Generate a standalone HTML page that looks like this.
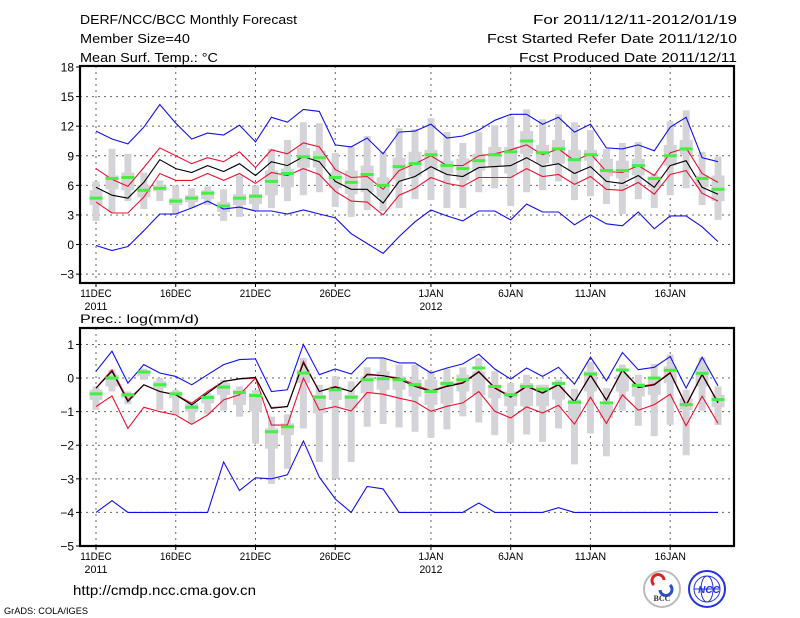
<!DOCTYPE html>
<html><head><meta charset="utf-8"><style>
html,body{margin:0;padding:0;background:#fff;}
svg{display:block;font-family:"Liberation Sans",sans-serif;}
</style></head><body>
<svg id="chart" width="800" height="618" viewBox="0 0 800 618" xmlns="http://www.w3.org/2000/svg">
<g font-size="13" fill="#000">
<text x="80" y="24" textLength="217" lengthAdjust="spacingAndGlyphs">DERF/NCC/BCC Monthly Forecast</text>
<text x="80" y="43" textLength="110" lengthAdjust="spacingAndGlyphs">Member Size=40</text>
<text x="80" y="62" textLength="138" lengthAdjust="spacingAndGlyphs">Mean Surf. Temp.: °C</text>
<text x="533" y="24" textLength="204" lengthAdjust="spacingAndGlyphs">For 2011/12/11-2012/01/19</text>
<text x="487" y="43" textLength="250" lengthAdjust="spacingAndGlyphs">Fcst Started Refer Date 2011/12/10</text>
<text x="519" y="62" textLength="218" lengthAdjust="spacingAndGlyphs">Fcst Produced Date 2011/12/11</text>
</g>
<text x="80" y="323" font-size="12" textLength="119" lengthAdjust="spacingAndGlyphs">Prec.: log(mm/d)</text>
<text x="73" y="595" font-size="14" textLength="183" lengthAdjust="spacingAndGlyphs">http://cmdp.ncc.cma.gov.cn</text>
<text x="4" y="614" font-size="9" textLength="84" lengthAdjust="spacingAndGlyphs">GrADS: COLA/IGES</text>
<g>
<circle cx="662" cy="589" r="18" fill="#fff" stroke="#bbb" stroke-width="2"/>
<path d="M654 585 a6 6 0 1 1 10 -5" stroke="#d22" stroke-width="3" fill="none"/>
<path d="M670 585 a6 6 0 1 1 -10 5" stroke="#2a4fd0" stroke-width="3" fill="none"/>
<text x="662" y="601" font-size="8" font-weight="bold" text-anchor="middle" fill="#333" font-family="Liberation Serif,serif">BCC</text>
</g>
<g>
<circle cx="707" cy="589" r="18" fill="#fff" stroke="#2233dd" stroke-width="2"/>
<ellipse cx="707" cy="589" rx="13" ry="13" fill="none" stroke="#2233dd" stroke-width="1"/>
<ellipse cx="707" cy="589" rx="6" ry="13" fill="none" stroke="#2233dd" stroke-width="1"/>
<line x1="694" y1="589" x2="720" y2="589" stroke="#2233dd"/>
<text x="709" y="593" font-size="10" font-weight="bold" font-style="italic" text-anchor="middle" fill="#2233dd">NCC</text>
</g>
<g id="top"></g>
<g id="bot"></g>
</svg>
<script>
// ---------- data ----------
const tTicks=[18,15,12,9,6,3,0,-3];
const pTicks=[1,0,-1,-2,-3,-4,-5];
const xTickDays=[0,5,10,15,21,26,31,36];
const xTickLabels=["11DEC","16DEC","21DEC","26DEC","1JAN","6JAN","11JAN","16JAN"];
const xYearLabels=["2011","","","","2012","","",""];
// temperature
const tMax=[11.5,10.7,10.2,11.9,14.2,12.3,10.7,11.3,11.1,12.1,10.4,12.9,12.4,13.7,13.5,10.1,9.9,10.8,9.2,11.4,11.5,12.2,10.8,11.0,11.6,12.6,13.2,13.2,12.2,12.9,11.4,12.2,9.8,9.7,10.1,9.5,11.9,12.9,8.8,8.4];
const tMin=[-0.1,-0.6,-0.2,1.4,3.1,3.1,3.7,4.4,3.6,3.8,3.4,3.4,3.1,3.5,3.1,2.7,1.1,0.1,-0.9,0.8,2.3,3.5,2.9,2.4,3.4,3.4,2.5,4.1,3.3,3.3,2.0,3.0,2.1,1.9,3.3,1.6,2.9,2.9,1.8,0.3];
const tUp=[7.7,6.6,5.9,7.8,9.8,9.0,8.2,8.8,8.4,9.4,7.8,9.6,9.2,10.3,9.9,7.6,6.8,6.9,5.6,7.5,8.2,9.0,8.0,8.0,9.0,9.2,9.6,10.1,9.1,9.7,8.5,9.2,7.4,7.3,8.0,7.0,9.3,9.8,7.2,6.3];
const tMean=[5.8,5.0,4.7,6.3,8.6,7.7,7.3,8.0,7.4,8.2,7.0,8.4,8.0,8.9,8.4,6.4,5.6,5.6,4.2,6.4,6.9,7.9,7.1,6.9,7.8,7.9,8.0,8.8,7.9,8.2,7.2,7.9,6.4,6.2,7.0,5.8,8.0,8.5,5.8,5.1];
const tLo=[4.3,3.2,3.2,4.8,7.2,6.5,6.5,7.2,6.5,7.2,6.2,7.3,7.0,7.7,7.1,5.4,4.4,4.3,3.0,5.0,5.7,6.8,6.2,5.9,6.8,6.8,6.8,7.7,6.9,7.1,6.1,6.9,5.6,5.5,6.3,5.1,7.1,7.5,5.2,4.4];
const tObs=[4.7,6.7,6.8,5.5,5.7,4.4,4.7,5.2,3.9,4.7,4.9,6.4,7.2,8.9,8.8,6.8,6.3,7.1,6.0,7.9,8.2,9.1,8.0,7.7,8.5,9.1,9.4,10.5,9.3,9.7,8.6,9.1,7.5,7.5,8.0,6.7,9.0,9.7,6.7,5.6];
const tWhLo=[2.4,3.2,4.4,3.6,4.4,3.0,3.7,4.0,2.4,2.8,3.4,3.7,4.4,5.0,5.3,3.8,2.8,3.5,3.4,3.7,4.6,4.5,3.7,3.7,5.3,5.7,3.9,5.3,5.5,6.4,4.5,4.9,4.1,3.1,4.6,3.7,5.0,5.7,4.0,2.5];
const tWhHi=[6.4,9.7,9.2,7.3,6.5,6.0,5.7,5.9,5.6,7.0,6.0,9.7,10.6,12.4,12.3,9.3,9.9,11.0,9.4,11.8,11.7,12.8,11.4,10.3,11.4,12.1,13.0,13.7,12.7,13.2,12.4,11.6,9.7,10.3,10.4,7.2,12.5,13.6,9.4,8.9];
const tBxLo=[4.0,5.6,5.5,4.8,5.4,4.0,4.3,4.6,3.3,4.0,4.1,5.0,5.8,7.8,7.8,5.7,5.1,5.3,4.8,6.6,6.9,7.5,7.2,6.5,7.5,7.9,7.2,9.2,8.2,8.2,7.5,8.5,6.9,6.7,7.0,5.8,8.0,9.1,5.8,4.4];
const tBxHi=[5.5,7.0,7.3,6.0,6.0,4.7,5.0,5.5,4.3,5.1,5.1,7.5,7.7,9.8,9.5,7.3,7.5,8.0,6.8,8.8,9.4,9.6,8.5,8.7,9.2,9.9,9.9,11.5,10.1,10.6,9.6,9.6,8.7,8.5,8.7,6.9,10.1,10.6,7.0,7.0];
// precipitation
const pMax=[0.2,0.8,-0.15,0.4,0.15,0.05,-0.2,0.1,0.4,0.55,0.57,-0.4,-0.35,1.0,0.1,0.27,0.12,0.6,0.6,0.45,0.45,0.15,0.3,0.42,0.71,0.27,-0.03,0.3,0.05,0.32,-0.18,0.62,-0.08,0.76,0.25,0.32,0.64,-0.3,0.62,-0.23];
const pMin=[-4,-3.65,-4,-4,-4,-4,-4,-4,-2.5,-3.35,-2.97,-3.0,-2.88,-1.87,-2.95,-3.6,-4,-3.23,-3.3,-4,-4,-4,-4,-4,-3.72,-4,-4,-4,-4,-3.86,-4,-4,-4,-4,-4,-4,-4,-4,-4,-4];
const pUp=[-0.3,0.25,-0.65,-0.2,-0.4,-0.5,-0.75,-0.4,-0.1,-0.03,0.0,-0.88,-0.85,0.5,-0.4,-0.25,-0.4,0.12,0.07,0.0,-0.2,-0.38,-0.23,-0.13,0.2,-0.28,-0.55,-0.23,-0.43,-0.18,-0.7,0.1,-0.65,0.25,-0.26,-0.18,0.17,-0.8,0.12,-0.72];
const pMean=[-0.3,0.2,-0.7,-0.2,-0.4,-0.5,-0.8,-0.45,-0.1,-0.02,0.02,-0.9,-0.85,0.45,-0.4,-0.27,-0.4,0.1,0.07,-0.03,-0.25,-0.4,-0.25,-0.15,0.18,-0.3,-0.57,-0.25,-0.45,-0.2,-0.71,0.08,-0.66,0.23,-0.28,-0.2,0.15,-0.82,0.1,-0.74];
const pLo=[-0.85,-0.53,-1.5,-0.87,-1.0,-1.1,-1.38,-1.1,-0.65,-0.5,0.0,-1.4,-1.4,0.0,-0.95,-0.85,-0.98,-0.43,-0.48,-0.6,-0.7,-0.99,-0.84,-0.74,-0.4,-0.99,-1.19,-0.86,-1.04,-0.81,-1.37,-0.57,-1.35,-0.5,-0.96,-0.79,-0.48,-1.42,-0.54,-1.35];
const pObs=[-0.47,0.0,-0.5,0.18,-0.2,-0.47,-0.87,-0.58,-0.27,-0.43,-0.52,-1.6,-1.45,0.15,-0.57,-0.35,-0.57,-0.05,-0.02,-0.05,-0.2,-0.4,-0.16,-0.05,0.3,-0.25,-0.5,-0.25,-0.33,-0.16,-0.72,0.12,-0.74,0.24,-0.22,0.0,0.23,-0.79,0.14,-0.64];
const pWhLo=[-0.95,-0.4,-0.78,-0.05,-0.95,-1.1,-1.35,-1.08,-0.97,-1.15,-1.95,-3.15,-2.7,-1.5,-2.5,-3.0,-2.5,-1.45,-1.37,-1.47,-1.6,-1.78,-1.53,-1.14,-1.32,-1.7,-1.93,-1.68,-1.9,-1.5,-2.57,-1.65,-2.33,-0.97,-1.42,-1.73,-1.39,-2.3,-0.97,-1.4];
const pWhHi=[-0.25,0.25,-0.4,0.28,0.0,-0.35,-0.7,-0.45,-0.05,-0.25,-0.35,-1.15,-1.08,0.6,-0.2,0.05,-0.1,0.32,0.58,0.4,0.4,0.2,0.28,0.32,0.6,0.2,-0.15,0.1,-0.2,-0.05,-0.32,0.48,-0.3,0.4,0.1,0.42,0.7,-0.35,0.61,-0.25];
const pBxLo=[-0.65,-0.25,-0.6,0.05,-0.3,-0.6,-1.0,-0.75,-0.5,-0.8,-1.0,-2.1,-1.7,-0.15,-1.05,-0.65,-0.9,-0.45,-0.35,-0.35,-0.55,-0.8,-0.76,-0.4,-0.5,-0.6,-0.84,-0.84,-0.84,-0.64,-1.14,-0.4,-1.2,-0.4,-0.55,-0.5,-0.15,-0.95,-0.25,-0.87];
const pBxHi=[-0.35,0.1,-0.45,0.22,-0.1,-0.4,-0.75,-0.5,-0.15,-0.35,-0.45,-1.5,-1.35,0.25,-0.5,-0.25,-0.5,0.05,0.2,0.05,-0.05,-0.05,-0.1,0.1,0.2,-0.2,-0.4,-0.15,-0.2,-0.25,-0.64,0.2,-0.8,0.1,-0.15,-0.05,0.35,-0.6,0.35,-0.5];

// ---------- drawing ----------
const NS="http://www.w3.org/2000/svg";
const X0=80,X1=734,D0=96,DX=15.95;
const xOf=d=>D0+d*DX;
function mk(parent,tag,attrs){const e=document.createElementNS(NS,tag);for(const k in attrs)e.setAttribute(k,attrs[k]);parent.appendChild(e);return e;}
function panel(g,top,bot,vTop,vBot,ticks,S,prefix){
  const yOf=v=>top+(vTop-v)/(vTop-vBot)*(bot-top);
  ticks.forEach(t=>{const y=yOf(t);
    if(y>top+2&&y<bot-2){const l=mk(g,'line',{x1:X0,x2:X1,y1:y,y2:y,stroke:'#666','stroke-width':1,'stroke-dasharray':'2,4'});
    
    }
    const tk=mk(g,'line',{x1:X0-4,x2:X0,y1:y,y2:y,stroke:'#000'});
    
    
    const tx=mk(g,'text',{x:X0-6,y:y+4.5,'font-size':12,'text-anchor':'end'});tx.textContent=(t<0?'\u2212'+(-t):''+t);
    
    
  });
  xTickDays.forEach((d,i)=>{const x=xOf(d);
    const l=mk(g,'line',{x1:x,x2:x,y1:top,y2:bot,stroke:'#666','stroke-dasharray':'2,4'});
    
    
    const tk=mk(g,'line',{x1:x,x2:x,y1:bot,y2:bot+4,stroke:'#000'});
    
    
    const tx=mk(g,'text',{x:x,y:bot+14,'font-size':11,'text-anchor':'middle',textLength:xTickLabels[i].length*6.3,lengthAdjust:'spacingAndGlyphs'});tx.textContent=xTickLabels[i];
    
    
    if(xYearLabels[i]){const ty=mk(g,'text',{x:x,y:bot+27,'font-size':11,'text-anchor':'middle',textLength:23,lengthAdjust:'spacingAndGlyphs'});ty.textContent=xYearLabels[i];
      
      }
  });
  for(let d=0;d<S.obs.length;d++){const x=xOf(d);
    const w=mk(g,'rect',{x:x-3.5,width:7,y:yOf(S.whHi[d]),height:Math.max(1,yOf(S.whLo[d])-yOf(S.whHi[d])),fill:'#d4d4d8'});
    
    
    const b=mk(g,'rect',{x:x-6.5,width:13,y:yOf(S.bxHi[d]),height:Math.max(1,yOf(S.bxLo[d])-yOf(S.bxHi[d])),fill:'#d4d4d8'});
    
    
  }
  const line=(arr,col,name)=>{const p=mk(g,'polyline',{points:arr.map((v,d)=>xOf(d).toFixed(1)+','+yOf(v).toFixed(1)).join(' '),fill:'none',stroke:col,'stroke-width':1.1});
    
    };
  line(S.max,'#1010ee',prefix+'-max-line');line(S.min,'#1010ee',prefix+'-min-line');
  line(S.lo,'#ee1030',prefix+'-lower-line');line(S.up,'#ee1030',prefix+'-upper-line');
  line(S.mean,'#000',prefix+'-mean-line');
  for(let d=0;d<S.obs.length;d++){const r=mk(g,'rect',{x:xOf(d)-6.5,width:13,y:yOf(S.obs[d])-1.5,height:3,fill:'#44ee44'});
    
    }
  const f=mk(g,'rect',{x:X0,y:top,width:X1-X0,height:bot-top,fill:'none',stroke:'#000','stroke-width':2.2});
  
  
}
panel(document.getElementById('top'),66,283,18.1,-3.9,tTicks,{max:tMax,min:tMin,up:tUp,mean:tMean,lo:tLo,obs:tObs,whLo:tWhLo,whHi:tWhHi,bxLo:tBxLo,bxHi:tBxHi},'temp');
panel(document.getElementById('bot'),328,546,1.49,-5,pTicks,{max:pMax,min:pMin,up:pUp,mean:pMean,lo:pLo,obs:pObs,whLo:pWhLo,whHi:pWhHi,bxLo:pBxLo,bxHi:pBxHi},'prec');
</script>
</body></html>
